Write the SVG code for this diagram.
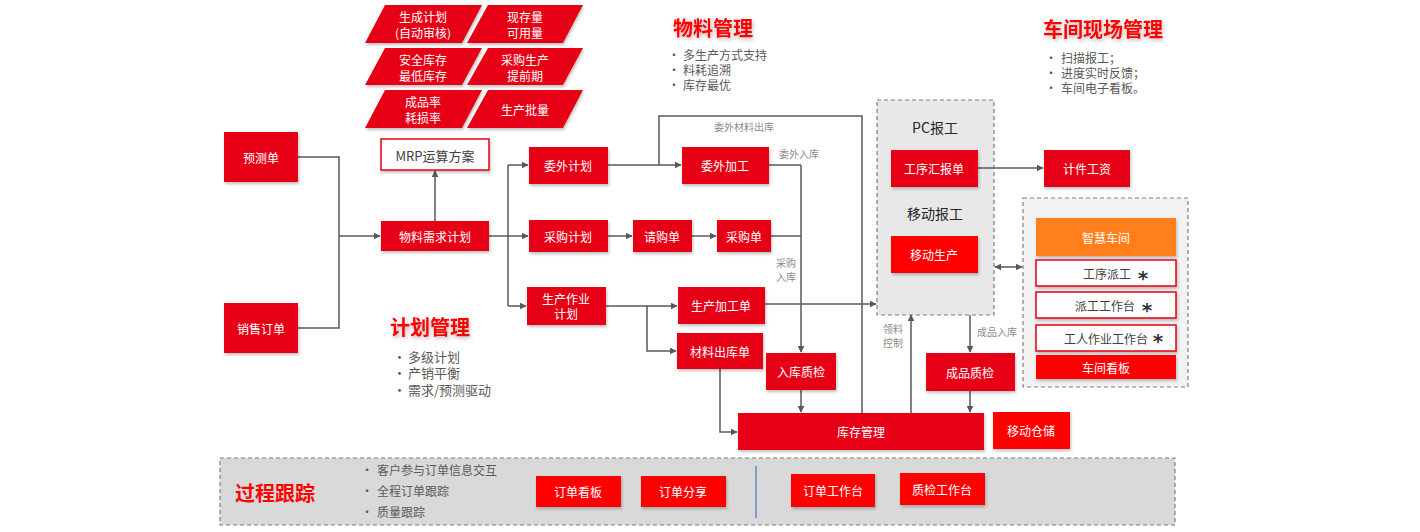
<svg xmlns="http://www.w3.org/2000/svg" width="1420" height="532" viewBox="0 0 1420 532">
<style>
text{font-family:"Noto Sans CJK SC","Liberation Sans",sans-serif}
.r{fill:#e50012;filter:url(#sh)}
.b{fill:#ff0000;filter:url(#sh)}
.w{fill:#fff;stroke:#e50012;stroke-width:1.5;filter:url(#sh)}
.t{fill:#fff;font-size:12px;text-anchor:middle;dominant-baseline:central}
.d{fill:#404040;font-size:12px;text-anchor:middle;dominant-baseline:central}
.st{fill:#333;font-size:20px;font-weight:bold;text-anchor:middle;font-family:"DejaVu Sans",sans-serif}
.c{fill:none;stroke:#595959;stroke-width:1.5}
.a{marker-end:url(#ar)}
.lb{fill:#8c8c8c;font-size:10px;dominant-baseline:central}
.h{fill:#ff0000;font-size:20px;font-weight:bold;dominant-baseline:central;filter:url(#hs)}
.bl{fill:#595959;font-size:12px;dominant-baseline:central}
.dash{stroke:#7f7f7f;stroke-width:1.2;stroke-dasharray:4 3}
</style>
<defs>
<marker id="ar" viewBox="0 0 10 10" refX="9" refY="5" markerWidth="7" markerHeight="7" orient="auto-start-reverse" markerUnits="userSpaceOnUse"><path d="M0,0L10,5L0,10z" fill="#595959"/></marker>
<filter id="sh" x="-10%" y="-10%" width="130%" height="140%"><feDropShadow dx="1" dy="2" stdDeviation="1.5" flood-color="#000" flood-opacity="0.25"/></filter>
<filter id="hs" x="-10%" y="-20%" width="130%" height="160%"><feDropShadow dx="1" dy="2" stdDeviation="2" flood-color="#000" flood-opacity="0.3"/></filter>
</defs>
<rect width="1420" height="532" fill="#fff"/>

<g id="params">
<polygon class="r" points="385,5 482,5 462,43 365,43"/>
<text class="t" x="423" y="16.5">生成计划<tspan x="423" dy="15">(自动审核)</tspan></text>
<polygon class="r" points="488,5 583,5 563,43 467,43"/>
<text class="t" x="525" y="16.5">现存量<tspan x="525" dy="15">可用量</tspan></text>
<polygon class="r" points="385,48 482,48 462,85 365,85"/>
<text class="t" x="423" y="59.5">安全库存<tspan x="423" dy="15">最低库存</tspan></text>
<polygon class="r" points="488,48 583,48 563,85 467,85"/>
<text class="t" x="525" y="59.5">采购生产<tspan x="525" dy="15">提前期</tspan></text>
<polygon class="r" points="385,90 482,90 462,128 365,128"/>
<text class="t" x="423" y="101.5">成品率<tspan x="423" dy="15">耗损率</tspan></text>
<polygon class="r" points="488,90 583,90 563,128 467,128"/>
<text class="t" x="525" y="109">生产批量</text>
</g>

<g id="headings">
<text class="h" x="673" y="27">物料管理</text>
<text class="bl" x="668" y="54">•</text><text class="bl" x="683" y="54">多生产方式支持</text>
<text class="bl" x="668" y="69">•</text><text class="bl" x="683" y="69">料耗追溯</text>
<text class="bl" x="668" y="84">•</text><text class="bl" x="683" y="84">库存最优</text>
<text class="h" x="1043" y="28">车间现场管理</text>
<text class="bl" x="1045" y="57">•</text><text class="bl" x="1061" y="57">扫描报工；</text>
<text class="bl" x="1045" y="72">•</text><text class="bl" x="1061" y="72">进度实时反馈；</text>
<text class="bl" x="1045" y="87">•</text><text class="bl" x="1061" y="87">车间电子看板。</text>
<text class="h" x="390" y="326">计划管理</text>
<text class="bl" x="393" y="356" style="font-size:13px">•</text><text class="bl" x="408" y="356" style="font-size:13px">多级计划</text>
<text class="bl" x="393" y="372.5" style="font-size:13px">•</text><text class="bl" x="408" y="372.5" style="font-size:13px">产销平衡</text>
<text class="bl" x="393" y="389" style="font-size:13px">•</text><text class="bl" x="408" y="389" style="font-size:13px">需求/预测驱动</text>
</g>

<g id="pcbox">
<rect x="877" y="100" width="117" height="215" fill="#e8e8e8" class="dash"/>
<text class="d" x="935" y="127" style="font-size:14px;fill:#262626">PC报工</text>
<text class="d" x="935" y="213" style="font-size:14px;fill:#262626">移动报工</text>
</g>

<g id="smartbox">
<rect x="1023" y="198" width="165" height="189" fill="#f2f2f2" class="dash"/>
</g>

<g id="trackpanel">
<rect x="220" y="458" width="955" height="67" fill="#d9d9d9" class="dash"/>
<text class="h" x="235" y="492" style="filter:none">过程跟踪</text>
<text class="bl" x="361" y="469">•</text><text class="bl" x="377" y="469">客户参与订单信息交互</text>
<text class="bl" x="361" y="490">•</text><text class="bl" x="377" y="490">全程订单跟踪</text>
<text class="bl" x="361" y="511">•</text><text class="bl" x="377" y="511">质量跟踪</text>
<line x1="756" y1="466" x2="756" y2="518" stroke="#4472c4" stroke-width="1.2"/>
</g>

<g id="connectors">
<polyline class="c" points="298,157 339,157 339,328 298,328"/>
<line class="c a" x1="339" y1="236" x2="380" y2="236"/>
<line class="c a" x1="435" y1="221" x2="435" y2="171"/>
<line class="c" x1="489" y1="236" x2="508" y2="236"/>
<polyline class="c" points="508,165 508,306"/>
<line class="c a" x1="508" y1="165" x2="528" y2="165"/>
<line class="c a" x1="508" y1="236" x2="528" y2="236"/>
<line class="c a" x1="508" y1="306" x2="526" y2="306"/>
<line class="c a" x1="608" y1="165" x2="681" y2="165"/>
<polyline class="c" points="659,165 659,116 862,116 862,413"/>
<line class="c a" x1="608" y1="236" x2="632" y2="236"/>
<line class="c a" x1="692" y1="236" x2="716" y2="236"/>
<polyline class="c" points="769,165 801,165"/>
<line class="c" x1="771" y1="236" x2="801" y2="236"/>
<line class="c a" x1="801" y1="165" x2="801" y2="352"/>
<line class="c a" x1="606" y1="306" x2="677" y2="306"/>
<polyline class="c a" points="647,306 647,351 676,351"/>
<line class="c a" x1="765" y1="304" x2="876" y2="304"/>
<polyline class="c a" points="720,369 720,432 737,432"/>
<line class="c a" x1="801" y1="390" x2="801" y2="412"/>
<line class="c a" x1="911" y1="413" x2="911" y2="315"/>
<line class="c a" x1="970" y1="315" x2="970" y2="352"/>
<line class="c a" x1="970" y1="391" x2="970" y2="412"/>
<line class="c a" x1="978" y1="168" x2="1043" y2="168"/>
<line class="c a" x1="995" y1="267" x2="1022" y2="267" style="marker-start:url(#ar)"/>
<text class="lb" x="714" y="126">委外材料出库</text>
<text class="lb" x="779" y="153">委外入库</text>
<text class="lb" x="776" y="262.5">采购<tspan x="776" dy="13">入库</tspan></text>
<text class="lb" x="883" y="328.5">领料<tspan x="883" dy="13">控制</tspan></text>
<text class="lb" x="977" y="331">成品入库</text>
</g>

<g id="n-yuce"><rect class="r" x="224" y="132" width="74" height="50"/><text class="t" x="261" y="157">预测单</text></g>
<g id="n-xiaoshou"><rect class="r" x="224" y="303" width="74" height="50"/><text class="t" x="261" y="328">销售订单</text></g>
<g id="n-mrp"><rect class="w" x="381" y="139" width="108" height="31"/><text class="d" x="435" y="155" style="font-size:13px">MRP运算方案</text></g>
<g id="n-wuliao"><rect class="r" x="381" y="221" width="108" height="30"/><text class="t" x="435" y="236">物料需求计划</text></g>
<g id="n-weiwaijh"><rect class="r" x="529" y="147" width="79" height="37"/><text class="t" x="568" y="165">委外计划</text></g>
<g id="n-weiwaijg"><rect class="r" x="682" y="147" width="87" height="37"/><text class="t" x="725" y="165">委外加工</text></g>
<g id="n-caigoujh"><rect class="r" x="529" y="220" width="79" height="32"/><text class="t" x="568" y="236">采购计划</text></g>
<g id="n-qinggou"><rect class="r" x="633" y="220" width="59" height="32"/><text class="t" x="662" y="236">请购单</text></g>
<g id="n-caigou"><rect class="r" x="717" y="220" width="54" height="32"/><text class="t" x="744" y="236">采购单</text></g>
<g id="n-shengchanjh"><rect class="r" x="527" y="287" width="79" height="38"/><text class="t" x="566" y="298">生产作业<tspan x="566" dy="15">计划</tspan></text></g>
<g id="n-shengchanjg"><rect class="r" x="678" y="287" width="87" height="37"/><text class="t" x="721" y="305">生产加工单</text></g>
<g id="n-cailiao"><rect class="r" x="677" y="333" width="86" height="36"/><text class="t" x="720" y="351">材料出库单</text></g>
<g id="n-rukuzj"><rect class="r" x="766" y="353" width="70" height="37"/><text class="t" x="801" y="371">入库质检</text></g>
<g id="n-kucun"><rect class="r" x="738" y="413" width="246" height="37"/><text class="t" x="861" y="431">库存管理</text></g>
<g id="n-chengpin"><rect class="r" x="926" y="353" width="89" height="38"/><text class="t" x="970" y="372">成品质检</text></g>
<g id="n-yidongcc"><rect class="b" x="993" y="412" width="77" height="37"/><text class="t" x="1031" y="430">移动仓储</text></g>
<g id="n-gongxuhb"><rect class="r" x="891" y="150" width="87" height="37"/><text class="t" x="934" y="168">工序汇报单</text></g>
<g id="n-yidongsc"><rect class="b" x="891" y="236" width="87" height="37"/><text class="t" x="934" y="254">移动生产</text></g>
<g id="n-jijian"><rect class="r" x="1044" y="150" width="86" height="37"/><text class="t" x="1087" y="168">计件工资</text></g>
<g id="n-zhihui"><rect x="1036" y="218" width="140" height="38" fill="#ff7f1f" filter="url(#sh)"/><text class="t" x="1106" y="237">智慧车间</text></g>
<g id="n-paigong"><rect class="w" x="1036" y="260" width="140" height="26"/><text class="d" x="1107" y="273">工序派工</text><text class="st" x="1143" y="285">*</text></g>
<g id="n-paigongtai"><rect class="w" x="1036" y="292" width="140" height="26"/><text class="d" x="1105" y="305">派工工作台</text><text class="st" x="1147" y="317">*</text></g>
<g id="n-gongren"><rect class="w" x="1036" y="325" width="140" height="26"/><text class="d" x="1106" y="338">工人作业工作台</text><text class="st" x="1158" y="348">*</text></g>
<g id="n-kanban"><rect class="b" x="1036" y="355" width="140" height="24"/><text class="t" x="1106" y="367">车间看板</text></g>
<g id="n-ddkb"><rect class="b" x="536" y="476" width="85" height="31"/><text class="t" x="578" y="491">订单看板</text></g>
<g id="n-ddfx"><rect class="b" x="641" y="476" width="85" height="31"/><text class="t" x="683" y="491">订单分享</text></g>
<g id="n-ddgzt"><rect class="b" x="791" y="474" width="84" height="33"/><text class="t" x="833" y="490">订单工作台</text></g>
<g id="n-zjgzt"><rect class="b" x="900" y="473" width="85" height="32"/><text class="t" x="942" y="489">质检工作台</text></g>
</svg>
